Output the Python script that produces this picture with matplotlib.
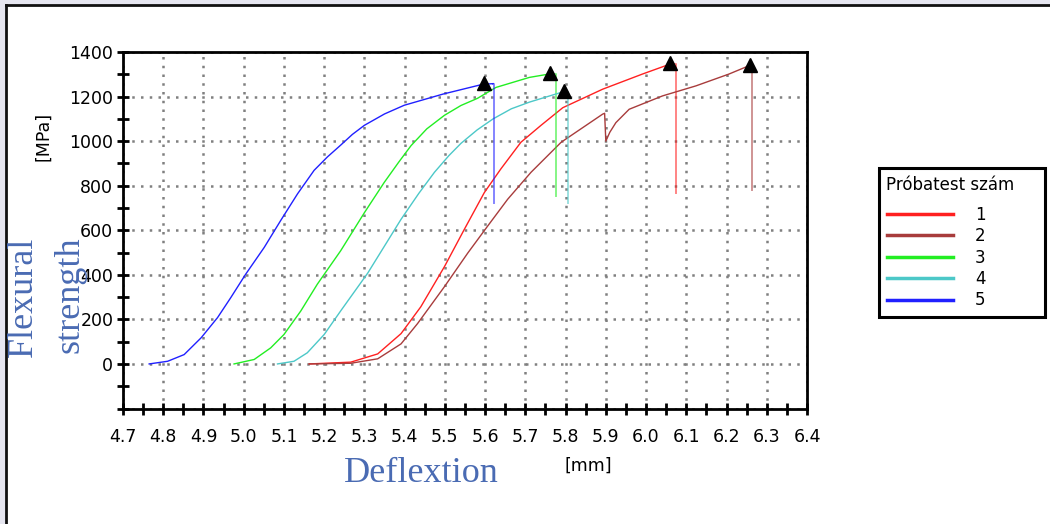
import matplotlib.pyplot as plt
from matplotlib.patches import Rectangle
from matplotlib.ticker import MultipleLocator

# specimen curves: deflection [mm], flexural strength [MPa]
x1 = [5.163, 5.266, 5.333, 5.391, 5.44, 5.499, 5.548, 5.598, 5.639, 5.689, 5.739, 5.793,
      5.892, 5.991, 6.06]
y1 = [0, 8, 45, 136, 256, 437, 603, 769, 875, 995, 1071, 1150, 1233, 1301, 1346]
drop1 = [6.074, 768]

x2 = [5.163, 5.266, 5.333, 5.391, 5.432, 5.499, 5.557, 5.606, 5.656, 5.714, 5.789, 5.892,
      5.897, 5.9, 5.91, 5.925, 5.958, 6.041, 6.124, 6.206, 6.258]
y2 = [0, 3, 23, 90, 181, 347, 498, 618, 739, 860, 995, 1121, 1125, 1000, 1040, 1083, 1143,
      1203, 1248, 1301, 1340]
drop2 = [6.264, 782]

x3 = [4.976, 5.026, 5.067, 5.1, 5.142, 5.183, 5.241, 5.3, 5.349, 5.385, 5.416, 5.455, 5.499,
      5.54, 5.581, 5.627, 5.71, 5.762]
y3 = [0, 20, 72, 132, 238, 358, 508, 679, 814, 905, 980, 1055, 1116, 1160, 1192, 1241, 1286,
      1302]
drop3 = [5.776, 752]

x4 = [5.084, 5.125, 5.158, 5.2, 5.241, 5.308, 5.391, 5.435, 5.474, 5.51, 5.54, 5.58, 5.62,
      5.665, 5.71, 5.795]
y4 = [0, 12, 50, 132, 238, 407, 649, 765, 860, 935, 990, 1050, 1100, 1145, 1175, 1222]
drop4 = [5.807, 723]

x5 = [4.765, 4.811, 4.852, 4.894, 4.935, 4.968, 5.005, 5.051, 5.092, 5.134, 5.175, 5.208,
      5.241, 5.27, 5.3, 5.35, 5.399, 5.495, 5.594, 5.62]
y5 = [0, 12, 42, 117, 208, 298, 403, 523, 644, 764, 869, 929, 982, 1030, 1071, 1122, 1161,
      1211, 1255, 1258]
drop5 = [5.623, 722]

# failure points (triangles)
peak_x = [6.06, 6.258, 5.762, 5.795, 5.597]
peak_y = [1350, 1342, 1304, 1226, 1260]

labels = ['1', '2', '3', '4', '5']
colors = ['#ff2020', '#a83c3c', '#22ee22', '#4cc8c8', '#2020ff']

fig = plt.figure(figsize=(10.5, 5.24), dpi=100)
fig.patch.set_facecolor('white')

# frame of the screenshot (top and left edge only)
fig.add_artist(Rectangle((0, 0), 6 / 1050, 1, transform=fig.transFigure,
                         facecolor='#e6e6f0', edgecolor='none'))
fig.add_artist(Rectangle((0, 1 - 5 / 524), 1, 5 / 524, transform=fig.transFigure,
                         facecolor='#e6e6f0', edgecolor='none'))
fig.add_artist(plt.Line2D([6 / 1050, 6 / 1050], [0, 1 - 5 / 524], transform=fig.transFigure,
                          color='#111111', lw=2))
fig.add_artist(plt.Line2D([6 / 1050, 1], [1 - 5 / 524, 1 - 5 / 524], transform=fig.transFigure,
                          color='#111111', lw=2))

ax = fig.add_axes([123 / 1050, 1 - 408.5 / 524, (807 - 123) / 1050, (408.5 - 52) / 524])

series = [(x1, y1, drop1), (x2, y2, drop2), (x3, y3, drop3), (x4, y4, drop4), (x5, y5, drop5)]
for (xs, ys, drop), c, lab in zip(series, colors, labels):
    ax.plot(xs, ys, color=c, lw=1.0, label=lab)
    ax.plot([xs[-1], drop[0], drop[0]], [ys[-1], ys[-1], drop[1]], color=c, lw=1.4, alpha=0.55)

ax.plot(peak_x, peak_y, linestyle='none', marker='^', markersize=10, color='black')

ax.set_xlim(4.7, 6.4)
ax.set_ylim(-200, 1400)
ax.xaxis.set_major_locator(MultipleLocator(0.1))
ax.xaxis.set_minor_locator(MultipleLocator(0.05))
ax.yaxis.set_major_locator(MultipleLocator(200))
ax.yaxis.set_minor_locator(MultipleLocator(100))
ax.xaxis.set_major_formatter(lambda v, p: f'{v:.1f}')
ax.yaxis.set_major_formatter(lambda v, p: '' if v < 0 else f'{v:.0f}')

ax.tick_params(which='both', direction='inout', width=2, color='black', labelsize=12.5,
               length=8)
ax.tick_params(axis='x', pad=10)
ax.tick_params(axis='y', pad=3)

for s in ax.spines.values():
    s.set_linewidth(2)
    s.set_color('black')

ax.grid(True, which='major', color='#808080', linestyle=(0, (1, 2.5)), linewidth=1.8)
ax.set_axisbelow(True)

leg = ax.legend(title='Próbatest szám', loc='upper left', mode='expand',
                bbox_to_anchor=(879 / 1050, 1 - 313 / 524, 166 / 1050, 145 / 524),
                bbox_transform=fig.transFigure,
                borderaxespad=0, fontsize=12, title_fontsize=12, handlelength=4.0,
                handletextpad=1.3, labelspacing=0.2, alignment='left', fancybox=False,
                borderpad=0.45, framealpha=1)
leg._legend_box.sep = 9  # a bit more room under the title
leg.get_frame().set_edgecolor('black')
leg.get_frame().set_linewidth(2.2)
for line in leg.get_lines():
    line.set_linewidth(2.5)

blue_text = '#4a6bb3'
fig.text(43 / 1050, 1 - 136 / 524, '[MPa]', rotation=90, ha='center', va='center', fontsize=12.5)
fig.text(23 / 1050, 1 - 297 / 524, 'Flexural', rotation=90, ha='center', va='center',
         fontsize=26, family='Liberation Serif', color=blue_text)
# overlaps the 400/600 tick labels, as it does in the reference
fig.text(70 / 1050, 1 - 295 / 524, 'strength', rotation=90, ha='center', va='center',
         fontsize=26, family='Liberation Serif', color=blue_text)
fig.text(421 / 1050, 1 - 474 / 524, 'Deflextion', ha='center', va='center',
         fontsize=26, family='Liberation Serif', color=blue_text)
fig.text(588 / 1050, 1 - 466 / 524, '[mm]', ha='center', va='center', fontsize=12.5)

fig.savefig('out.png', dpi=100)
